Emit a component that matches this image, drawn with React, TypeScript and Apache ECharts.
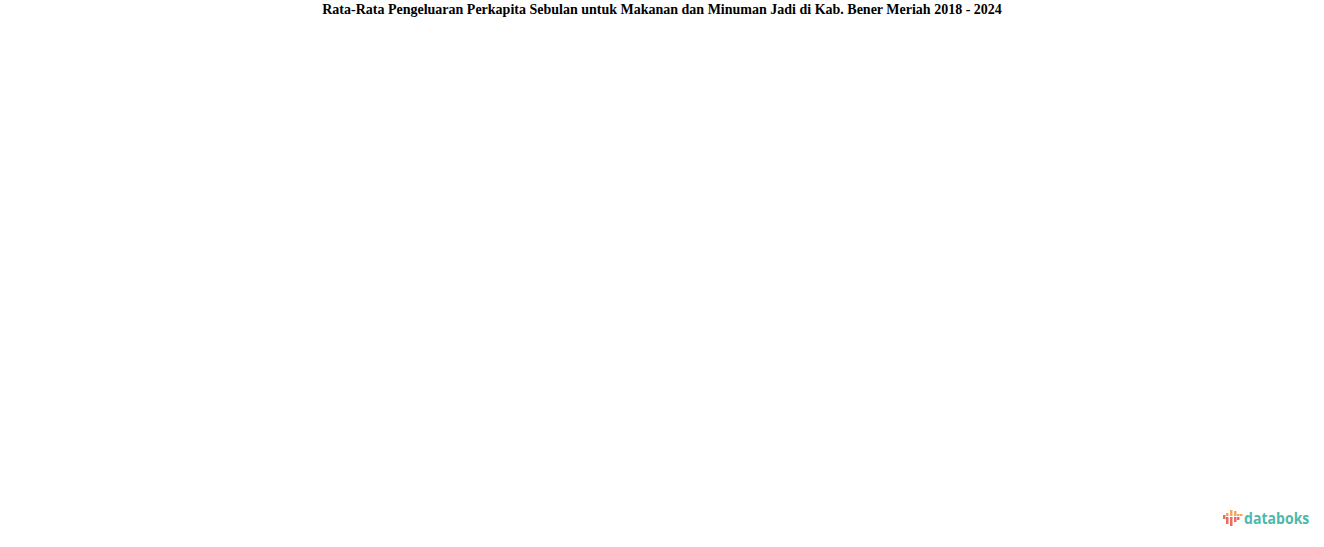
import React, { useEffect, useRef } from 'react';
import * as echarts from 'echarts';

// the source chart shows no data at all, only the title and the logo
const years: string[] = [];
const spending: number[] = [];

const titleText =
  'Rata-Rata Pengeluaran Perkapita Sebulan untuk Makanan dan Minuman Jadi di Kab. Bener Meriah 2018 - 2024';

// logo bars: [x, orange top, orange bottom, red top, red bottom]
const logoBars: number[][] = [
  [1223, 0, 0, 515, 519],
  [1226, 513, 516, 517, 524],
  [1230, 510, 516, 517, 526],
  [1234, 511, 516, 517, 522],
  [1237, 514, 516, 517, 520],
  [1240, 514, 516, 0, 0],
];

const App: React.FC = () => {
  const chartRef = useRef<HTMLDivElement>(null);

  useEffect(() => {
    if (!chartRef.current) return;
    const chart = echarts.init(chartRef.current, undefined, { renderer: 'svg' });

    const logo: any[] = [];
    logoBars.forEach(([x, ot, ob, rt, rb]) => {
      if (ob > ot) {
        logo.push({
          type: 'rect',
          shape: { x, y: ot, width: 2.5, height: ob - ot },
          style: { fill: '#f7a35c' },
        });
      }
      if (rb > rt) {
        logo.push({
          type: 'rect',
          shape: { x, y: rt, width: 2.5, height: rb - rt },
          style: { fill: '#ec6a5e' },
        });
      }
    });
    logo.push({
      type: 'text',
      x: 1244,
      y: 518,
      scaleX: 0.88,
      style: {
        text: 'databoks',
        fill: '#4fb8ad',
        font: 'bold 16px "Open Sans", sans-serif',
        textVerticalAlign: 'middle',
      },
    });

    chart.setOption({
      animation: false,
      backgroundColor: '#ffffff',
      title: {
        text: titleText,
        left: 'center',
        top: 2,
        padding: 0,
        textStyle: {
          fontFamily: '"Liberation Serif", "Times New Roman", serif',
          fontSize: 14,
          fontWeight: 'bold',
          color: '#000000',
        },
      },
      grid: { left: 60, right: 40, top: 50, bottom: 60 },
      xAxis: { type: 'category', data: years, show: false },
      yAxis: { type: 'value', show: false },
      series: [{ type: 'line', data: spending }],
      graphic: logo,
    });

    return () => chart.dispose();
  }, []);

  return (
    <div
      ref={chartRef}
      style={{ position: 'fixed', left: 0, top: 0, width: 1324, height: 547 }}
    />
  );
};

export default App;
